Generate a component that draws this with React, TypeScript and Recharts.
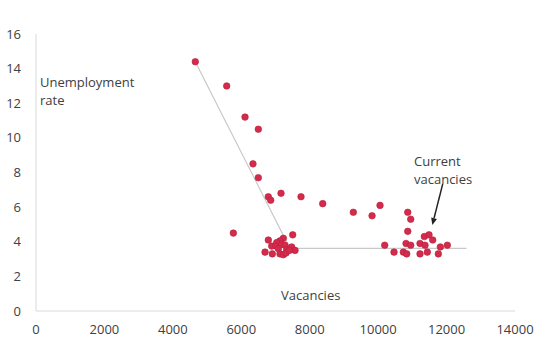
import { ScatterChart, Scatter, XAxis, YAxis, ReferenceLine } from "recharts";

// observed points (vacancies, unemployment rate %)
const vacancies = [
  4656, 5574, 6109, 6498, 6343, 6498, 6790, 6860, 7161, 7746, 8380, 9275, 9822, 10055, 5768,
  7503, 6790, 7229, 7132, 7035, 6889, 7015, 7181, 7278, 7083, 7327, 7473, 7571, 6694, 6907,
  7132, 7229, 7308, 7405,
  10865, 10952, 10865, 10192, 10464, 10737, 10835, 10815, 10952, 11224, 11370, 11224, 11438,
  11350, 11487, 11595, 11759, 11818, 12022,
];
const unemploymentRate = [
  14.4, 13.0, 11.2, 10.5, 8.5, 7.7, 6.6, 6.4, 6.8, 6.6, 6.2, 5.7, 5.5, 6.1, 4.5,
  4.4, 4.1, 4.2, 4.05, 3.95, 3.75, 3.75, 3.85, 3.8, 3.6, 3.55, 3.7, 3.5, 3.4, 3.3,
  3.3, 3.25, 3.35, 3.5,
  5.7, 5.3, 4.6, 3.8, 3.4, 3.4, 3.3, 3.9, 3.8, 3.9, 3.8, 3.3, 3.4,
  4.3, 4.4, 4.1, 3.3, 3.7, 3.8,
];

// piecewise line
const trendVacancies = [4656, 7420, 12580];
const trendRate = [14.4, 3.62, 3.62];

// arrow for "Current vacancies"
const arrowFrom = { x: 11888, y: 7.34 };
const arrowTo = { x: 11584, y: 4.97 };

const xTicks = [0, 2000, 4000, 6000, 8000, 10000, 12000, 14000];
const yTicks = [0, 2, 4, 6, 8, 10, 12, 14, 16];

const points = vacancies.map((v, i) => ({ x: v, y: unemploymentRate[i] }));
const trend = trendVacancies.map((v, i) => ({ x: v, y: trendRate[i] }));

const FONT = "'Open Sans', sans-serif";
const TEXT = "#404040";

const Dot = (props: any) => (
  <circle cx={props.cx} cy={props.cy} r={3.3} fill="#d42a4c" stroke="#b8203e" strokeWidth={0.6} />
);

const Arrow = (props: any) => {
  const { x1, y1, x2, y2 } = props;
  const ang = Math.atan2(y2 - y1, x2 - x1);
  const len = 7;
  const w = 3;
  const bx = x2 - len * Math.cos(ang);
  const by = y2 - len * Math.sin(ang);
  const px = -Math.sin(ang) * w;
  const py = Math.cos(ang) * w;
  return (
    <g>
      <line x1={x1} y1={y1} x2={bx} y2={by} stroke="#222" strokeWidth={1.5} />
      <polygon points={`${x2},${y2} ${bx + px},${by + py} ${bx - px},${by - py}`} fill="#222" />
    </g>
  );
};

const labelStyle = {
  position: "absolute" as const,
  fontFamily: FONT,
  fontSize: 13,
  color: TEXT,
  lineHeight: "17.5px",
  whiteSpace: "nowrap" as const,
};

export default function App() {
  return (
    <div style={{ position: "absolute", left: 0, top: 0, width: 540, height: 351, background: "#fff" }}>
      <ScatterChart width={540} height={351} margin={{ top: 34, right: 25, bottom: 10, left: 6 }}>
        <XAxis
          type="number"
          dataKey="x"
          domain={[0, 14000]}
          ticks={xTicks}
          height={30}
          axisLine={{ stroke: "#d9d9d9" }}
          tickLine={false}
          tickSize={0}
          tickMargin={14}
          tick={{ fill: TEXT, fontSize: 13, fontFamily: FONT }}
        />
        <YAxis
          type="number"
          dataKey="y"
          domain={[0, 16]}
          ticks={yTicks}
          width={30}
          axisLine={{ stroke: "#d9d9d9" }}
          tickLine={false}
          tickSize={0}
          tickMargin={15}
          tick={{ fill: TEXT, fontSize: 13, fontFamily: FONT }}
        />
        <Scatter
          data={trend}
          line={{ stroke: "#c8c8c8", strokeWidth: 1.2 }}
          shape={() => <g />}
          isAnimationActive={false}
        />
        <Scatter data={points} shape={Dot} isAnimationActive={false} />
        <ReferenceLine
          segment={[arrowFrom, arrowTo]}
          shape={Arrow}
          ifOverflow="visible"
        />
      </ScatterChart>
      <div style={{ ...labelStyle, left: 40, top: 74 }}>
        Unemployment
        <br />
        rate
      </div>
      <div style={{ ...labelStyle, left: 281, top: 287 }}>Vacancies</div>
      <div style={{ ...labelStyle, left: 414, top: 153 }}>
        Current
        <br />
        vacancies
      </div>
    </div>
  );
}
